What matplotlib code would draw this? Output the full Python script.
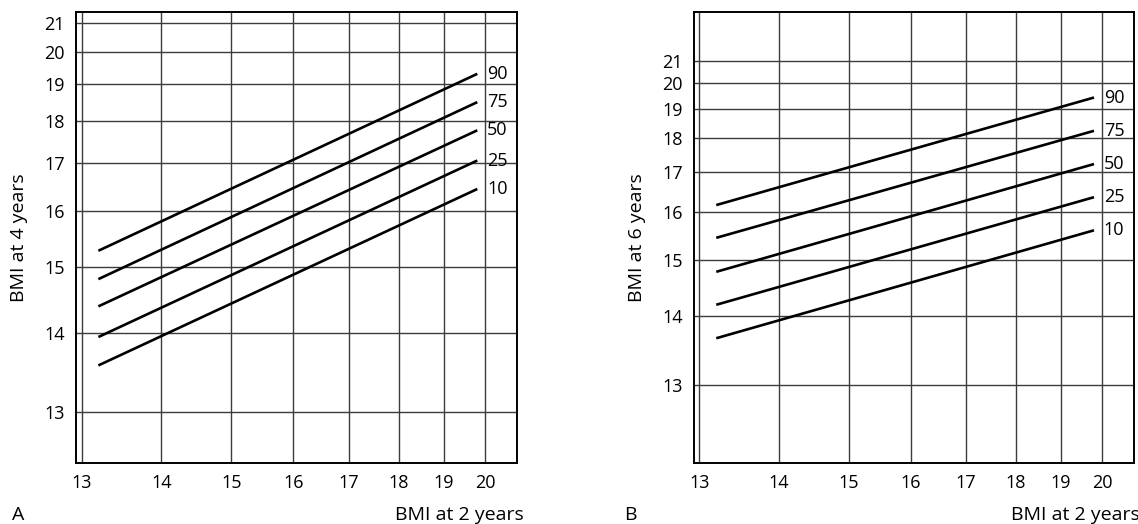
import numpy as np
import matplotlib
matplotlib.use("Agg")
import matplotlib.pyplot as plt

plt.rcParams['font.family'] = ['Open Sans', 'DejaVu Sans']

# percentile lines, BMI at 2 years on x
percentiles = ["90", "75", "50", "25", "10"]
bmi2_start = 13.2
bmi2_end = 19.8
# panel A: BMI at 4 years
bmi4_start = [15.28, 14.81, 14.39, 13.95, 13.57]
bmi4_end = [19.30, 18.49, 17.76, 17.05, 16.44]
# panel B: BMI at 6 years
bmi6_start = [16.17, 15.44, 14.77, 14.19, 13.66]
bmi6_end = [19.43, 18.24, 17.23, 16.36, 15.60]

x_ticks = [13, 14, 15, 16, 17, 18, 19, 20]
y_ticks = [13, 14, 15, 16, 17, 18, 19, 20, 21]


def power_scale(lam):
    # the chart axes are stretched like v**lam (lam < 0)
    def fwd(v):
        v = np.clip(np.asarray(v, dtype=float), 1e-6, None)
        return -np.power(v, lam)

    def inv(t):
        t = np.clip(-np.asarray(t, dtype=float), 1e-12, None)
        return np.power(t, 1.0 / lam)
    return fwd, inv


fig = plt.figure(figsize=(11.38, 5.24), dpi=100)
axA = fig.add_axes([0.0668, 0.1158, 0.3878, 0.8613])
axB = fig.add_axes([0.6098, 0.1158, 0.3866, 0.8620])

panels = [
    (axA, bmi4_start, bmi4_end, -1.4, (12.43, 21.41), "BMI at 4 years", "A"),
    (axB, bmi6_start, bmi6_end, -1.7, (12.07, 23.82), "BMI at 6 years", "B"),
]

for ax, ys, ye, lam, ylim, ylab, letter in panels:
    ax.set_xscale('function', functions=power_scale(-0.8))
    ax.set_yscale('function', functions=power_scale(lam))
    ax.set_xlim(12.935, 20.85)
    ax.set_ylim(*ylim)
    ax.set_xticks(x_ticks)
    ax.set_xticklabels([str(v) for v in x_ticks])
    ax.set_yticks(y_ticks)
    ax.set_yticklabels([str(v) for v in y_ticks])
    ax.minorticks_off()
    ax.tick_params(length=0, labelsize=13, pad=8)
    ax.grid(True, color='#3c3c3c', linewidth=1.0)
    ax.set_axisbelow(True)
    for s in ax.spines.values():
        s.set_linewidth(1.4)
        s.set_color('black')

    for lab, y0, y1 in zip(percentiles, ys, ye):
        ax.plot([bmi2_start, bmi2_end], [y0, y1], color='black', linewidth=1.9,
                solid_capstyle='butt')
        ax.annotate(lab, (bmi2_end, y1), xytext=(7, 0), textcoords='offset points',
                    ha='left', va='center', fontsize=13)

    ax.set_ylabel(ylab, fontsize=14, labelpad=12)
    ax.set_xlabel("BMI at 2 years", fontsize=14, loc='right')
    ax.xaxis.set_label_coords(1.014, -0.115)
    ax.xaxis.label.set_va('center')
    ax.text(-0.13 if letter == "A" else -0.145, -0.115, letter, transform=ax.transAxes,
            ha='center', va='center', fontsize=14)

fig.savefig("out.png", dpi=100)
